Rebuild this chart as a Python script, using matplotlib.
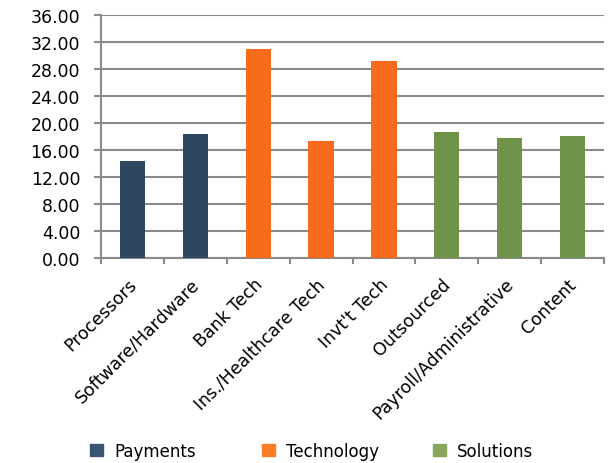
import numpy as np
import matplotlib
matplotlib.use("Agg")
import matplotlib.pyplot as plt
from matplotlib.patches import Patch
from matplotlib.transforms import ScaledTranslation

plt.rcParams['font.family'] = ['DejaVu Sans']

categories = ["Processors", "Software/Hardware", "Bank Tech", "Ins./Healthcare Tech",
              "Invt't Tech", "Outsourced", "Payroll/Administrative", "Content"]
values = [14.35, 18.4, 31.0, 17.3, 29.2, 18.7, 17.85, 18.1]
groups = ["Payments", "Payments", "Technology", "Technology", "Technology",
          "Solutions", "Solutions", "Solutions"]
group_names = ["Payments", "Technology", "Solutions"]
bar_colors = {"Payments": "#2e465f", "Technology": "#f96b1c", "Solutions": "#6f9449"}
legend_colors = {"Payments": "#3a5574", "Technology": "#fb7d26", "Solutions": "#89a65a"}

fig = plt.figure(figsize=(6.12, 4.64), dpi=100)
ax = fig.add_axes([101/612, 1 - 259/464, 503/612, 243/464])

x = np.arange(len(categories))
ax.bar(x, values, width=0.4, color=[bar_colors[g] for g in groups], zorder=3)

ax.set_xlim(-0.5, len(categories) - 0.5)
ax.set_ylim(0, 36)
ax.set_yticks(np.arange(0, 37, 4))
ax.set_yticklabels(["%.2f" % v for v in np.arange(0, 37, 4)], fontsize=12.5)
ax.yaxis.grid(True, color="#8a8a8a", linewidth=1.5, zorder=0)

ax.set_xticks(x)
ax.set_xticklabels(categories, rotation=45, ha="right", rotation_mode="anchor", fontsize=12.5)
ax.set_xticks(np.arange(len(categories) + 1) - 0.5, minor=True)
ax.tick_params(axis="x", which="major", length=0, pad=12)
ax.tick_params(axis="x", which="minor", length=4, width=1.5, color="#8a8a8a")
ax.tick_params(axis="y", length=5, width=1.5, color="#8a8a8a", pad=10)
shift = ScaledTranslation(-5/100, 0, fig.dpi_scale_trans)
for lab in ax.get_xticklabels():
    lab.set_transform(lab.get_transform() + shift)

for s in ["top", "right"]:
    ax.spines[s].set_visible(False)
for s in ["left", "bottom"]:
    ax.spines[s].set_color("#8a8a8a")
    ax.spines[s].set_linewidth(1.5)

# legend entries sit at fixed spacing along the bottom
leg_x = [90, 262, 433]
for g, lx in zip(group_names, leg_x):
    fig.legend(handles=[Patch(color=legend_colors[g], label=g)], loc="center left",
               bbox_to_anchor=(lx/612, 1 - 452/464), frameon=False, fontsize=12,
               handlelength=0.78, handleheight=0.72, handletextpad=0.66,
               borderpad=0, borderaxespad=0)

fig.savefig("out.png", dpi=100)
